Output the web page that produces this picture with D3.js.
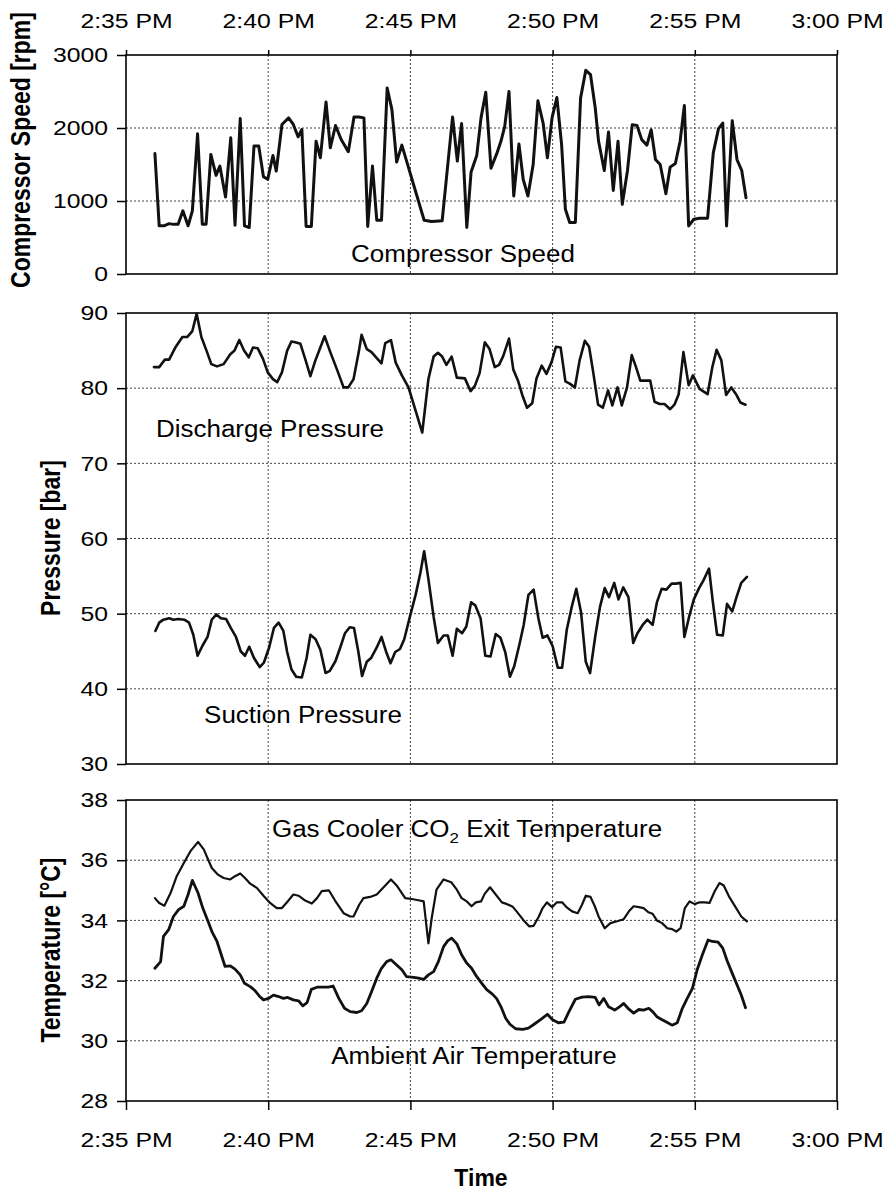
<!DOCTYPE html>
<html>
<head>
<meta charset="utf-8">
<script src="https://cdn.jsdelivr.net/npm/d3@7"></script>
<style>
body { margin: 0; background: #fff; }
svg { font-family: "Liberation Sans", Arial, sans-serif; }
.grid line { stroke: #444; stroke-width: 1; stroke-dasharray: 2,2; }
.axis path { display: none; }
.axis line { stroke: #000; stroke-width: 1.5; }
.axis text { font-size: 21px; fill: #000; }
.frame { fill: none; stroke: #000; stroke-width: 1.6; }
.series { fill: none; stroke: #111; stroke-linejoin: round; stroke-linecap: round; }
</style>
</head>
<body>
<div id="container"></div>
<script>
// time in minutes after 2:35 PM
const timeTicks = ["2:35 PM", "2:40 PM", "2:45 PM", "2:50 PM", "2:55 PM", "3:00 PM"];
const speedTicks = [0, 1000, 2000, 3000];
const pressureTicks = [30, 40, 50, 60, 70, 80, 90];
const tempTicks = [28, 30, 32, 34, 36, 38];

const speedTime = [1.02,1.16,1.33,1.51,1.67,1.84,2.0,2.18,2.33,2.51,2.68,2.82,2.99,3.16,3.3,3.5,3.68,3.84,4.02,4.16,4.34,4.5,4.67,4.84,4.99,5.17,5.29,5.49,5.72,5.89,6.05,6.19,6.33,6.51,6.69,6.84,7.03,7.19,7.36,7.57,7.82,8.01,8.18,8.37,8.5,8.67,8.82,8.99,9.18,9.35,9.52,9.7,10.49,10.75,11.12,11.49,11.65,11.8,11.98,12.13,12.33,12.48,12.65,12.83,13.03,13.18,13.32,13.47,13.64,13.81,13.97,14.14,14.31,14.49,14.66,14.81,14.98,15.15,15.31,15.45,15.6,15.8,15.99,16.16,16.34,16.5,16.62,16.81,16.97,17.14,17.3,17.45,17.63,17.8,17.96,18.14,18.31,18.47,18.62,18.79,18.99,19.14,19.31,19.48,19.64,19.78,19.96,20.16,20.45,20.65,20.83,20.99,21.12,21.31,21.48,21.65,21.8];
const speedRpm = [1650,660,660,690,680,683,865,660,865,1920,683,683,1638,1351,1479,1056,1865,669,2129,660,637,1752,1752,1333,1297,1624,1410,2048,2139,2048,1879,1979,651,651,1820,1592,2357,1729,2034,1843,1674,2152,2152,2139,651,1479,737,737,2548,2252,1533,1765,737,719,728,2152,1547,2061,637,1397,1624,2139,2490,1450,1645,1818,2023,2500,1068,1782,1295,1068,1500,2373,2068,1591,2145,2418,1773,886,705,705,2409,2790,2730,2273,1818,1418,1945,1145,1818,955,1418,2045,2036,1841,1764,1977,1568,1500,1100,1464,1514,1818,2309,659,750,764,764,1659,1991,2068,659,2100,1568,1418,1045];

const dischargeTime = [0.98,1.16,1.37,1.51,1.74,1.98,2.15,2.33,2.48,2.65,2.85,3.0,3.2,3.44,3.67,3.82,3.99,4.15,4.32,4.47,4.64,4.82,4.99,5.16,5.31,5.49,5.66,5.81,5.95,6.13,6.3,6.48,6.65,6.83,6.98,7.18,7.42,7.65,7.82,8.0,8.18,8.29,8.47,8.64,8.82,8.99,9.11,9.32,9.49,9.7,9.93,10.16,10.42,10.63,10.81,10.96,11.12,11.27,11.45,11.63,11.92,12.12,12.27,12.44,12.62,12.78,12.96,13.11,13.26,13.46,13.61,13.79,13.94,14.1,14.28,14.43,14.61,14.78,14.96,15.11,15.28,15.45,15.6,15.78,15.95,16.13,16.28,16.42,16.6,16.77,16.95,17.1,17.28,17.44,17.61,17.79,17.94,18.09,18.43,18.58,18.76,18.93,19.14,19.28,19.43,19.6,19.78,19.93,20.16,20.45,20.61,20.77,20.94,21.1,21.28,21.45,21.6,21.78];
const dischargeBar = [82.8,82.8,83.8,83.8,85.4,86.8,86.8,87.6,89.9,86.8,84.8,83.2,82.9,83.2,84.5,85.0,86.4,85.0,84.1,85.4,85.3,83.9,82.1,81.2,80.8,82.1,85.0,86.2,86.1,85.9,83.9,81.6,83.6,85.4,86.9,84.8,82.5,80.1,80.1,81.2,84.8,87.1,85.2,84.8,84.0,83.3,86.0,86.4,83.4,81.7,80.1,77.2,74.1,81.2,84.2,84.7,84.2,83.1,84.2,81.4,81.3,79.6,80.3,82.0,86.1,85.2,82.8,83.1,84.3,86.6,82.5,81.0,79.1,77.4,78.0,81.3,83.0,81.9,83.5,85.5,85.4,80.9,80.6,80.1,83.7,86.3,85.5,82.4,77.8,77.4,79.7,77.7,80.1,77.7,80.1,84.4,82.8,81.0,81.0,78.2,77.9,77.9,77.2,77.8,79.2,84.8,80.4,81.7,79.9,79.2,82.8,85.1,83.7,79.1,80.1,79.2,78.1,77.8];

const suctionTime = [1.03,1.17,1.32,1.52,1.67,1.84,2.05,2.22,2.37,2.51,2.69,2.87,3.01,3.18,3.33,3.51,3.68,3.86,4.04,4.19,4.33,4.5,4.7,4.85,5.03,5.2,5.36,5.53,5.67,5.81,5.99,6.18,6.35,6.49,6.67,6.84,7.02,7.17,7.37,7.54,7.7,7.87,8.01,8.16,8.3,8.46,8.62,8.81,8.98,9.15,9.3,9.47,9.63,9.79,9.98,10.18,10.35,10.49,10.64,10.82,10.97,11.17,11.31,11.49,11.64,11.81,11.96,12.13,12.28,12.46,12.63,12.81,13.0,13.16,13.33,13.5,13.65,13.83,13.98,14.15,14.33,14.5,14.65,14.82,15.0,15.18,15.33,15.5,15.67,15.84,16.0,16.17,16.32,16.5,16.66,16.84,16.99,17.16,17.32,17.49,17.67,17.83,17.98,18.16,18.33,18.51,18.66,18.84,19.0,19.18,19.33,19.5,19.64,19.8,19.97,20.15,20.3,20.5,20.64,20.79,20.99,21.14,21.32,21.47,21.64,21.84];
const suctionBar = [47.7,48.8,49.2,49.4,49.2,49.3,49.2,48.8,47.2,44.4,45.7,46.9,49.2,49.9,49.4,49.3,48.1,46.9,45.0,44.4,45.6,44.1,42.9,43.5,45.5,48.1,48.8,47.7,44.9,42.6,41.6,41.5,44.1,47.2,46.6,45.2,42.1,42.4,43.7,45.5,47.4,48.2,48.1,45.0,41.7,43.6,44.1,45.5,46.9,44.9,43.4,44.9,45.3,46.6,49.6,52.5,55.4,58.3,54.6,49.6,46.1,47.1,47.1,44.4,48.0,47.4,48.3,51.5,51.1,49.4,44.4,44.3,47.3,46.8,44.9,41.6,43.0,45.9,48.5,52.5,53.2,49.4,46.8,47.1,45.7,42.8,42.8,47.9,50.8,53.3,50.2,43.6,42.1,47.0,50.9,53.4,52.2,54.1,51.9,53.5,52.2,46.1,47.4,48.5,49.2,48.5,51.5,53.3,53.2,54.0,54.0,54.1,46.9,49.6,51.9,53.4,54.4,56.0,51.6,47.2,47.1,51.3,50.3,52.2,54.1,54.9];

const gasCoolerTime = [1.01,1.17,1.35,1.56,1.79,2.03,2.26,2.53,2.73,3.02,3.23,3.43,3.67,3.84,4.02,4.19,4.37,4.6,4.84,5.07,5.3,5.48,5.68,5.89,6.07,6.3,6.53,6.71,6.89,7.14,7.35,7.65,7.88,8.0,8.2,8.35,8.58,8.82,9.11,9.32,9.52,9.81,10.05,10.28,10.46,10.63,10.75,10.92,11.16,11.43,11.63,11.8,11.98,12.15,12.3,12.48,12.62,12.8,13.0,13.21,13.4,13.6,13.74,13.98,14.18,14.33,14.51,14.65,14.8,14.98,15.15,15.33,15.5,15.68,15.89,16.03,16.17,16.33,16.48,16.62,16.83,17.03,17.27,17.5,17.68,17.85,18.03,18.2,18.36,18.52,18.67,18.85,19.03,19.2,19.35,19.5,19.65,19.81,20.0,20.16,20.35,20.52,20.7,20.87,21.02,21.2,21.43,21.64,21.84];
const gasCoolerC = [34.74,34.58,34.49,34.91,35.47,35.91,36.3,36.61,36.36,35.74,35.52,35.41,35.36,35.47,35.56,35.41,35.22,35.08,34.82,34.58,34.41,34.41,34.63,34.86,34.82,34.66,34.56,34.74,34.97,35.0,34.66,34.24,34.13,34.13,34.52,34.74,34.78,34.86,35.16,35.36,35.16,34.74,34.71,34.67,34.63,33.24,34.08,35.02,35.36,35.27,35.02,34.74,34.63,34.47,34.6,34.63,34.89,35.1,34.86,34.6,34.54,34.45,34.3,34.0,33.8,33.82,34.13,34.41,34.6,34.44,34.6,34.6,34.43,34.3,34.24,34.52,34.82,34.78,34.47,34.13,33.74,33.91,33.97,34.04,34.3,34.47,34.44,34.41,34.27,34.22,34.0,33.91,33.74,33.71,33.63,33.74,34.41,34.63,34.54,34.6,34.6,34.58,34.97,35.24,35.16,34.8,34.44,34.13,33.97];

const ambientTime = [1.01,1.21,1.32,1.5,1.67,1.85,2.03,2.18,2.34,2.53,2.7,2.88,3.04,3.2,3.35,3.49,3.67,3.84,4.02,4.17,4.37,4.54,4.68,4.84,5.01,5.19,5.36,5.54,5.69,5.89,6.07,6.21,6.36,6.51,6.71,6.89,7.12,7.29,7.49,7.68,7.88,8.11,8.29,8.47,8.64,8.82,8.99,9.17,9.32,9.52,9.7,9.87,10.11,10.28,10.46,10.63,10.81,10.98,11.16,11.31,11.45,11.63,11.8,11.98,12.15,12.33,12.51,12.69,12.88,13.03,13.2,13.35,13.5,13.7,13.95,14.15,14.35,14.6,14.82,15.0,15.2,15.4,15.56,15.8,16.03,16.27,16.5,16.64,16.8,16.97,17.18,17.35,17.5,17.68,17.85,18.03,18.2,18.38,18.52,18.67,18.85,19.05,19.2,19.38,19.55,19.73,19.91,20.08,20.26,20.47,20.61,20.82,20.99,21.14,21.31,21.49,21.64,21.78];
const ambientC = [32.41,32.63,33.47,33.69,34.13,34.36,34.47,34.86,35.33,34.91,34.41,33.97,33.6,33.3,32.86,32.47,32.49,32.38,32.19,31.91,31.8,31.67,31.49,31.36,31.41,31.52,31.47,31.41,31.44,31.36,31.33,31.16,31.27,31.71,31.78,31.78,31.78,31.82,31.41,31.08,30.97,30.94,31.0,31.24,31.63,32.08,32.41,32.63,32.69,32.52,32.36,32.13,32.11,32.08,32.04,32.19,32.3,32.63,33.13,33.33,33.41,33.22,32.86,32.58,32.41,32.13,31.9,31.7,31.55,31.4,31.1,30.75,30.55,30.4,30.38,30.42,30.55,30.72,30.88,30.7,30.6,30.62,30.95,31.38,31.45,31.47,31.44,31.19,31.41,31.13,31.02,31.13,31.24,31.05,30.92,31.04,31.02,31.08,30.97,30.8,30.7,30.6,30.52,30.6,31.05,31.41,31.74,32.36,32.86,33.35,33.3,33.28,33.08,32.67,32.24,31.86,31.52,31.1];

const W = 892, H = 1195;
const sx = 1.18; // the scanned figure is a little wider than tall

const svg = d3.select("#container").append("svg")
    .attr("width", W)
    .attr("height", H);

const parseTime = d3.timeParse("%I:%M %p");
const fmt = d3.timeFormat("%-I:%M %p");
const start = parseTime(timeTicks[0]);
const toDate = m => new Date(start.getTime() + Math.round(m * 60) * 1000);
const tickDates = timeTicks.map(parseTime);

const x = d3.scaleTime()
    .domain([tickDates[0], tickDates[tickDates.length - 1]])
    .range([126, 837]);

// three stacked panels
const panels = [
    { top: 55, bottom: 274, ticks: speedTicks, title: "Compressor Speed [rpm]", tx: 30, ty: 150 },
    { top: 313, bottom: 764, ticks: pressureTicks, title: "Pressure [bar]", tx: 60, ty: 538 },
    { top: 800, bottom: 1101, ticks: tempTicks, title: "Temperature [°C]", tx: 60, ty: 950 }
];

panels.forEach(p => {
    p.y = d3.scaleLinear()
        .domain([p.ticks[0], p.ticks[p.ticks.length - 1]])
        .range([p.bottom, p.top]);

    // dotted grid
    const grid = svg.append("g").attr("class", "grid");
    grid.selectAll("line.h")
        .data(p.ticks.slice(1, -1))
        .enter().append("line")
        .attr("x1", x.range()[0]).attr("x2", x.range()[1])
        .attr("y1", d => p.y(d)).attr("y2", d => p.y(d));
    grid.selectAll("line.v")
        .data(tickDates.slice(1, -1))
        .enter().append("line")
        .attr("x1", d => x(d)).attr("x2", d => x(d))
        .attr("y1", p.top).attr("y2", p.bottom);

    svg.append("rect")
        .attr("class", "frame")
        .attr("x", x.range()[0])
        .attr("y", p.top)
        .attr("width", x.range()[1] - x.range()[0])
        .attr("height", p.bottom - p.top);

    // y axis
    const ya = svg.append("g")
        .attr("class", "axis")
        .attr("transform", `translate(${x.range()[0]},0)`)
        .call(d3.axisLeft(p.y).tickValues(p.ticks).tickFormat(d3.format("d"))
            .tickSize(9).tickPadding(9).tickSizeOuter(0));
    ya.selectAll(".tick text")
        .attr("x", -18 / sx)
        .attr("transform", `scale(${sx},1)`);

    svg.append("text")
        .attr("transform", `translate(${p.tx},${p.ty}) scale(${sx},1) rotate(-90)`)
        .attr("text-anchor", "middle")
        .style("font-size", "23px")
        .style("font-weight", "bold")
        .text(p.title);
});

// time axes: top of first panel, bottom of last
const topAxis = svg.append("g")
    .attr("class", "axis")
    .attr("transform", `translate(0,${panels[0].top})`)
    .call(d3.axisTop(x).tickValues(tickDates).tickFormat(fmt).tickSize(5).tickPadding(22).tickSizeOuter(0));
topAxis.selectAll(".tick text").attr("transform", `scale(${sx},1)`);

const botAxis = svg.append("g")
    .attr("class", "axis")
    .attr("transform", `translate(0,${panels[2].bottom})`)
    .call(d3.axisBottom(x).tickValues(tickDates).tickFormat(fmt).tickSize(9).tickPadding(22).tickSizeOuter(0));
botAxis.selectAll(".tick text").attr("transform", `scale(${sx},1)`);

svg.append("text")
    .attr("x", 481)
    .attr("y", 1186)
    .attr("text-anchor", "middle")
    .style("font-size", "23px")
    .style("font-weight", "bold")
    .text("Time");

// series
const series = [
    { t: speedTime, v: speedRpm, panel: 0, width: 3 },
    { t: dischargeTime, v: dischargeBar, panel: 1, width: 2.6 },
    { t: suctionTime, v: suctionBar, panel: 1, width: 2.6 },
    { t: gasCoolerTime, v: gasCoolerC, panel: 2, width: 2.2 },
    { t: ambientTime, v: ambientC, panel: 2, width: 2.8 }
];

series.forEach(s => {
    const y = panels[s.panel].y;
    const line = d3.line()
        .x(d => x(toDate(d[0])))
        .y(d => y(d[1]));
    svg.append("path")
        .datum(d3.zip(s.t, s.v))
        .attr("class", "series")
        .attr("stroke-width", s.width)
        .attr("d", line);
});

// series labels
function label(cx, base) {
    return svg.append("text")
        .attr("transform", `translate(${cx},${base}) scale(1.13,1)`)
        .attr("text-anchor", "middle")
        .style("font-size", "23px");
}

label(463, 262).text("Compressor Speed");
label(270, 437).text("Discharge Pressure");
label(303, 723).text("Suction Pressure");
const gc = label(467, 837);
gc.append("tspan").text("Gas Cooler CO");
gc.append("tspan").attr("dy", 6).style("font-size", "15px").text("2");
gc.append("tspan").attr("dy", -6).text(" Exit Temperature");
label(474, 1064).text("Ambient Air Temperature");
</script>
</body>
</html>
